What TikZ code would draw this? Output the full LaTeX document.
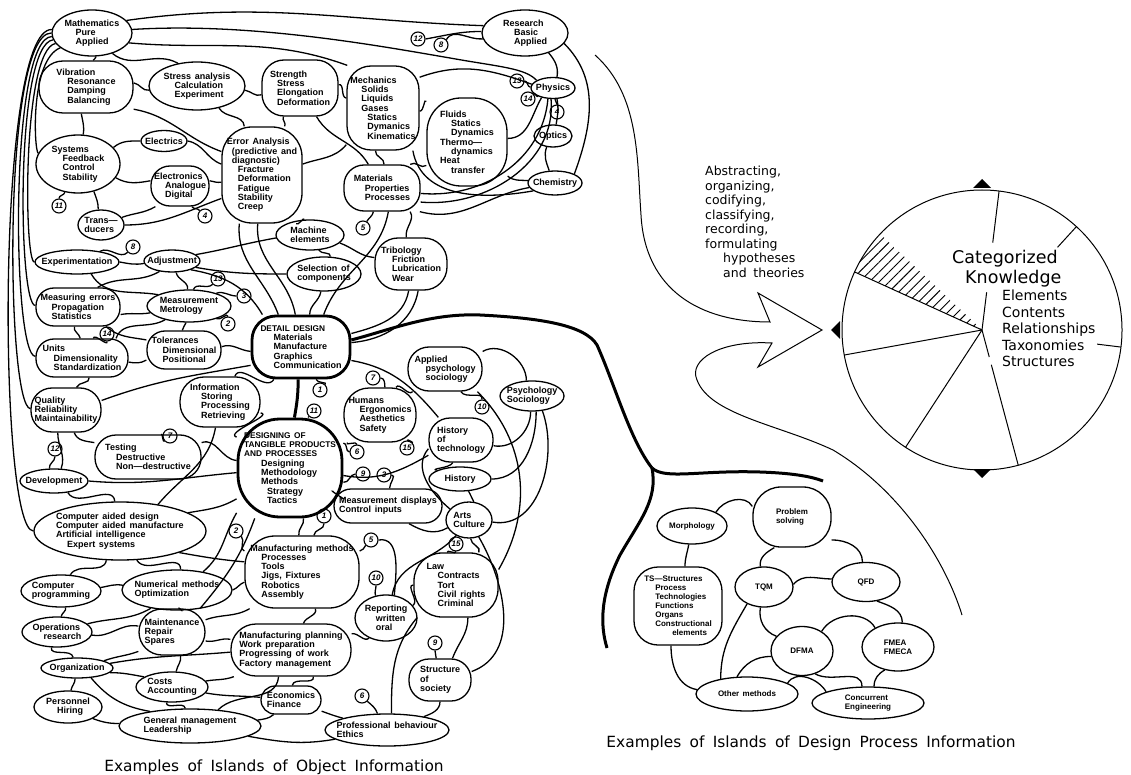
\documentclass[tikz,border=0pt]{standalone}
\usepackage{fontspec}
\newfontfamily\lblfont[WordSpace=1.5]{Liberation Sans}
\newfontfamily\geofont[WordSpace=1.7]{DejaVu Sans}
\usetikzlibrary{shapes.geometric,patterns.meta}
\newcommand{\indentA}{\hspace*{11pt}}
\newcommand{\indentB}{\hspace*{17pt}}
\newcommand{\capsfont}{\fontsize{8.3}{9.3}\selectfont}
\begin{document}
\begin{tikzpicture}[x=1pt,y=1pt,
  isl/.style 2 args={draw, ellipse, line width=1.3pt, inner sep=0pt, minimum width=#1, minimum height=#2},
  blob/.style n args={3}{draw, rectangle, rounded corners=#3, line width=1.3pt, inner sep=0pt, minimum width=#1, minimum height=#2},
  hub/.style={line width=2.8pt},
  lbl/.style={align=left, inner sep=0pt, font=\lblfont\bfseries\fontsize{9}{9.3}\selectfont},
  lbs/.style={align=left, inner sep=0pt, font=\lblfont\bfseries\fontsize{8}{9}\selectfont},
  tx/.style={label={[lbl]center:{#1}}},
  txs/.style={label={[lbs]center:{#1}}},
  numc/.style={draw, circle, line width=1.1pt, inner sep=0pt, minimum size=14pt, font=\lblfont\bfseries\itshape\fontsize{8}{8}\selectfont},
  ln/.style={line width=1.3pt},
  thk/.style={line width=3pt},
  geo/.style={font=\geofont\fontsize{12.5}{14.5}\selectfont, align=left, inner sep=0pt},
  ttl/.style={font=\geofont\fontsize{15.4}{16}\selectfont, inner sep=0pt},
]
\useasboundingbox (0,0) rectangle (1131,-775);

% ---------------- islands of object information ----------------
\node[isl={80}{46}, tx={Mathematics\\\indentA Pure\\\indentA Applied}] (math) at (92,-33) {};
\node[isl={86}{46}, tx={Research\\\indentA Basic\\\indentA Applied}] (res) at (525,-33) {};
\node[blob={94}{52}{24}, tx={Vibration\\\indentA Resonance\\\indentA Damping\\\indentA Balancing}] (vib) at (86,-87) {};
\node[isl={96}{48}, tx={Stress analysis\\\indentA Calculation\\\indentA Experiment}] (stress) at (197,-86) {};
\node[blob={76}{56}{22}, tx={Strength\\\hspace*{7pt}Stress\\\hspace*{7pt}Elongation\\\hspace*{7pt}Deformation}] (strength) at (300,-88) {};
\node[blob={72}{84}{24}, tx={Mechanics\\\indentA Solids\\\indentA Liquids\\\indentA Gases\\\indentB Statics\\\indentB Dymanics\\\indentB Kinematics}] (mech) at (383,-108) {};
\node[blob={80}{88}{34}, tx={Fluids\\\indentA Statics\\\indentA Dynamics\\Thermo—\\\indentA dynamics\\Heat\\\indentA transfer}] (fluid) at (467,-142) {};
\node[isl={44}{21}, tx={Physics}] (phys) at (553,-88) {};
\node[isl={38}{22}, tx={Optics}] (opt) at (553,-136) {};
\node[isl={54}{24}, tx={Chemistry}] (chem) at (555,-183) {};
\node[isl={84}{58}, tx={Systems\\\indentA Feedback\\\indentA Control\\\indentA Stability}] (sys) at (78,-164) {};
\node[isl={46}{21}, tx={Electrics}] (elec) at (164,-141) {};
\node[blob={58}{40}{19}, tx={Electronics\\\indentA Analogue\\\indentA Digital}] (elo) at (180,-186) {};
\node[blob={80}{96}{30}, tx={Error Analysis\\\hspace*{5pt}(predictive and\\\hspace*{5pt}diagnostic)\\\indentA Fracture\\\indentA Deformation\\\indentA Fatigue\\\indentA Stability\\\indentA Creep}] (err) at (262,-175) {};
\node[blob={76}{46}{20}, tx={Materials\\\indentA Properties\\\indentA Processes}] (mat) at (382,-188) {};
\node[isl={46}{30}, tx={Trans—\\ducers}] (trans) at (101,-225) {};
\node[isl={68}{30}, tx={Machine\\elements}] (mach) at (310,-235) {};
\node[blob={72}{52}{23}, tx={Tribology\\\indentA Friction\\\indentA Lubrication\\\indentA Wear}] (trib) at (411,-264) {};
\node[isl={74}{34}, tx={Selection of\\components}] (sel) at (324,-274) {};
\node[isl={84}{24}, tx={Experimentation}] (expm) at (77,-262) {};
\node[isl={56}{22}, tx={Adjustment}] (adj) at (172,-261) {};
\node[blob={84}{38}{18}, tx={Measuring errors\\\indentA Propagation\\\indentA Statistics}] (merr) at (78,-307) {};
\node[isl={84}{32}, tx={Measurement\\Metrology}] (meas) at (189,-306) {};
\node[blob={74}{38}{18}, tx={Tolerances\\\indentA Dimensional\\\indentA Positional}] (tol) at (184,-350) {};
\node[blob={92}{38}{18}, tx={Units\\\indentA Dimensionality\\\indentA Standardization}] (units) at (82,-358) {};
\node[blob={98}{62}{24}, hub, tx={{\capsfont DETAIL DESIGN}\\\hspace*{13pt}Materials\\\hspace*{13pt}Manufacture\\\hspace*{13pt}Graphics\\\hspace*{13pt}Communication}] (dd) at (301,-347) {};
\node[blob={80}{50}{24}, tx={Information\\\indentA Storing\\\indentA Processing\\\indentA Retrieving}] (info) at (220,-402) {};
\node[blob={70}{44}{21}, tx={Quality\\Reliability\\Maintainability}] (qual) at (66,-410) {};
\node[blob={106}{44}{21}, tx={Testing\\\indentA Destructive\\\indentA Non—destructive}] (test) at (148,-457) {};
\node[blob={104}{98}{42}, hub, tx={{\capsfont DESIGNING OF}\\{\capsfont TANGIBLE PRODUCTS}\\{\capsfont AND PROCESSES}\\\indentB Designing\\\indentB Methodology\\\indentB Methods\\\hspace*{23pt}Strategy\\\hspace*{23pt}Tactics}] (des) at (290,-468) {};
\node[blob={74}{44}{21}, tx={Applied\\\indentA psychology\\\indentA sociology}] (apsy) at (445,-369) {};
\node[blob={72}{54}{25}, tx={Humans\\\indentA Ergonomics\\\indentA Aesthetics\\\indentA Safety}] (hum) at (380,-415) {};
\node[isl={64}{30}, tx={Psychology\\Sociology}] (psy) at (532,-396) {};
\node[blob={64}{44}{21}, tx={History\\of\\technology}] (hot) at (461,-440) {};
\node[isl={62}{24}, tx={History}] (hist) at (460,-479) {};
\node[isl={68}{24}, tx={Development}] (dev) at (54,-481) {};
\node[blob={108}{34}{17}, tx={Measurement displays\\Control inputs}] (mdisp) at (388,-506) {};
\node[isl={46}{36}, tx={Arts\\Culture}] (arts) at (469,-520) {};
\node[isl={172}{58}, tx={Computer aided design\\Computer aided manufacture\\Artificial intelligence\\\indentA Expert systems}] (cad) at (120,-531) {};
\node[blob={114}{72}{30}, tx={Manufacturing methods\\\indentA Processes\\\indentA Tools\\\indentA Jigs, Fixtures\\\indentA Robotics\\\indentA Assembly}] (mm) at (302,-572) {};
\node[blob={84}{64}{28}, tx={Law\\\indentA Contracts\\\indentA Tort\\\indentA Civil rights\\\indentA Criminal}] (law) at (456,-585) {};
\node[isl={80}{32}, tx={Computer\\programming}] (cprog) at (61,-591) {};
\node[isl={110}{40}, tx={Numerical methods\\Optimization}] (num) at (177,-590) {};
\node[isl={62}{46}, tx={Reporting\\\indentA written\\\indentA oral}] (rep) at (386,-618) {};
\node[isl={70}{30}, tx={Operations\\\indentA research}] (ops) at (57,-632) {};
\node[blob={66}{46}{23}, tx={Maintenance\\Repair\\Spares}] (maint) at (172,-632) {};
\node[blob={120}{52}{25}, tx={Manufacturing planning\\Work preparation\\Progressing of work\\Factory management}] (mplan) at (291,-650) {};
\node[isl={72}{20}, tx={Organization}] (org) at (77,-668) {};
\node[isl={72}{30}, tx={Costs\\Accounting}] (costs) at (172,-687) {};
\node[blob={62}{42}{20}, tx={Structure\\of\\society}] (soc) at (440,-680) {};
\node[isl={68}{32}, tx={Personnel\\\indentA Hiring}] (pers) at (68,-707) {};
\node[blob={60}{28}{14}, tx={Economics\\Finance}] (econ) at (291,-700) {};
\node[isl={142}{34}, tx={General management\\Leadership}] (gm) at (190,-726) {};
\node[isl={124}{32}, tx={Professional behaviour\\Ethics}] (prof) at (387,-730) {};

% reference numbers
\node[numc] (n12a) at (418,-39) {12};
\node[numc] (n8a) at (441,-45) {8};
\node[numc] (n13a) at (517,-81) {13};
\node[numc] (n14a) at (528,-99) {14};
\node[numc] (n4a) at (557,-112) {4};
\node[numc] (n11a) at (59,-206) {11};
\node[numc] (n4b) at (205,-216) {4};
\node[numc] (n5a) at (363,-228) {5};
\node[numc] (n8b) at (133,-247) {8};
\node[numc] (n13b) at (218,-279) {13};
\node[numc] (n3a) at (244,-296) {3};
\node[numc] (n2a) at (228,-324) {2};
\node[numc] (n14b) at (107,-334) {14};
\node[numc] (n7a) at (170,-436) {7};
\node[numc] (n12b) at (55,-449) {12};
\node[numc] (n1a) at (320,-390) {1};
\node[numc] (n11b) at (314,-411) {11};
\node[numc] (n7b) at (373,-378) {7};
\node[numc] (n6a) at (357,-452) {6};
\node[numc] (n15a) at (407,-448) {15};
\node[numc] (n10a) at (482,-407) {10};
\node[numc] (n9a) at (363,-474) {9};
\node[numc] (n3b) at (384,-475) {3};
\node[numc] (n1b) at (324,-516) {1};
\node[numc] (n2b) at (236,-531) {2};
\node[numc] (n5b) at (371,-540) {5};
\node[numc] (n10b) at (376,-578) {10};
\node[numc] (n15b) at (456,-544) {15};
\node[numc] (n9b) at (435,-643) {9};
\node[numc] (n6b) at (362,-696) {6};

% long loops down the left edge
\draw[ln] (math.175) .. controls (-4,-28) and (-2,-530) .. (cad.180);
\draw[ln] (math.180) .. controls (2,-33) and (6,-405) .. (qual.178);
\draw[ln] (math.185) .. controls (9,-38) and (12,-356) .. (units.178);
\draw[ln] (math.190) .. controls (15,-44) and (18,-306) .. (merr.178);
\draw[ln] (math.196) .. controls (22,-50) and (24,-262) .. (expm.180);
\draw[ln] (math.205) .. controls (30,-60) and (34,-150) .. (sys.165);

% upper region
\draw[ln] (math.20) to[out=8,in=178] (res.170);
\draw[ln] (math.5) .. controls (250,-22) and (380,-46) .. (450,-58) .. controls (500,-67) and (525,-68) .. (phys.155);
\draw[ln] (math.-15) to[out=-5,in=160] (mech.130);
\draw[ln] (math.-45) to[out=-40,in=150] (stress.130);
\draw[ln] (math.-80) to[out=-70,in=80] (vib.75);
\draw[ln] (vib.5) to[out=-10,in=190] (stress.185);
\draw[ln] (stress.-5) to[out=-10,in=200] (strength.190);
\draw[ln] (vib.-25) to[out=-10,in=160] (err.150);
\draw[ln] (stress.-45) to[out=-60,in=95] (err.110);
\draw[ln] (strength.-120) to[out=-120,in=60] (err.65);
\draw[ln] (vib.-100) to[out=-80,in=80] (sys.80);
\draw[ln] (sys.25) to[out=40,in=180] (elec.180);
\draw[ln] (elec.0) to[out=-10,in=160] (err.165);
\draw[ln] (sys.-20) to[out=-30,in=190] (elo.170);
\draw[ln] (elo.10) to[out=-10,in=190] (err.190);
\draw[ln] (sys.-60) to[out=-70,in=90] (trans.100);
\draw[ln] (elo.-140) to[out=-150,in=20] (trans.20);
\draw[ln] (trans.0) to[out=0,in=200] (err.-150);
\draw[ln] (strength.5) to[out=10,in=170] (mech.165);
\draw[ln] (strength.-60) to[out=-60,in=120] (mat.120);
\draw[ln] (mech.-135) to[out=-130,in=20] (err.15);
\draw[ln] (mech.40) to[out=20,in=160] (phys.170);
\draw[ln] (mech.-5) to[out=0,in=120] (fluid.135);
\draw[ln] (mech.-100) to[out=-100,in=80] (mat.85);
\draw[ln] (mech.-55) to[out=-80,in=190] (chem.-160);
\draw[ln] (fluid.-40) to[out=-40,in=175] (chem.175);
\draw[ln] (fluid.5) to[out=0,in=-120] (phys.-140);
\draw[ln] (mat.-8) to[out=-5,in=-95] (phys.-115);
\draw[ln] (mat.-20) to[out=-5,in=-85] (phys.-100);
\draw[ln] (mat.40) to[out=40,in=-140] (fluid.-150);
\draw[ln] (mat.-32) to[out=-15,in=-170] (chem.-170);
\draw[ln] (res.-40) to[out=-50,in=80] (phys.70);
\draw[ln] (res.-15) to[out=-45,in=70] (chem.25);
\draw[ln] (phys.-70) to[out=-80,in=80] (opt.75);
\draw[ln] (opt.-120) to[out=-110,in=110] (chem.115);
\draw[ln] (n12a.east) to[out=10,in=180] (res.178);
\draw[ln] (n8a.north east) to[out=60,in=185] (res.-172);
\draw[ln] (n13a.east) to[out=0,in=175] (phys.178);
\draw[ln] (n14a.north east) to[out=45,in=-150] (phys.-150);
\draw[ln] (n4a.north) to[out=100,in=-80] (phys.-80);
\draw[ln] (n11a.north) to[out=90,in=-100] (sys.-115);
\draw[ln] (n4b.north west) to[out=120,in=-60] (elo.-60);

% middle region
\draw[ln] (err.-115) to[out=-95,in=110] (dd.125);
\draw[ln] (err.-95) to[out=-95,in=100] (dd.100);
\draw[ln] (err.-55) to[out=-50,in=100] (mach.110);
\draw[ln] (mat.-110) to[out=-100,in=60] (n5a.60);
\draw[ln] (mat.-75) to[out=-100,in=70] (dd.55);
\draw[ln] (mat.-40) to[out=-60,in=100] (trib.100);
\draw[ln] (mach.-15) to[out=-20,in=175] (trib.170);
\draw[ln] (mach.-60) to[out=-60,in=80] (sel.70);
\draw[ln] (adj.15) to[out=10,in=190] (mach.185);
\draw[ln] (adj.-15) to[out=-10,in=180] (sel.180);
\draw[ln] (sel.-100) to[out=-100,in=90] (dd.75);
\draw[ln] (trib.-95) to[out=-100,in=15] (dd.15);
\draw[ln] (trib.-75) to[out=-100,in=5] (dd.5);
\draw[ln] (expm.0) to[out=-10,in=190] (adj.185);
\draw[ln] (n8b.south west) to[out=-135,in=30] (expm.25);
\draw[ln] (expm.-40) to[out=-60,in=170] (meas.160);
\draw[ln] (adj.-140) to[out=-150,in=30] (merr.45);
\draw[ln] (adj.-70) to[out=-80,in=80] (meas.95);
\draw[ln] (adj.-25) to[out=-10,in=120] (dd.140);
\draw[ln] (merr.-10) to[out=10,in=190] (meas.190);
\draw[ln] (merr.-35) to[out=-40,in=170] (tol.165);
\draw[ln] (merr.-100) to[out=-110,in=100] (units.95);
\draw[ln] (meas.-100) to[out=-100,in=90] (tol.95);
\draw[ln] (meas.-150) to[out=-150,in=70] (units.30);
\draw[ln] (units.-5) to[out=-10,in=-150] (tol.-165);
\draw[ln] (tol.5) to[out=20,in=175] (dd.-175);
\draw[ln] (units.-70) to[out=-80,in=70] (qual.65);
\draw[ln] (qual.15) to[out=20,in=190] (dd.-160);
\draw[ln] (info.60) to[out=70,in=-120] (dd.-130);
\draw[ln] (info.-15) to[out=-10,in=160] (des.150);
\draw[ln] (qual.-70) to[out=-70,in=170] (test.165);
\draw[ln] (test.15) to[out=20,in=175] (des.172);
\draw[ln] (info.-100) to[out=-100,in=50] (cad.35);
\draw[ln] (n13b.south west) to[out=-135,in=70] (meas.75);
\draw[ln] (n3a.west) to[out=180,in=20] (meas.25);
\draw[ln] (n2a.north) to[out=100,in=-30] (meas.-25);
\draw[ln] (n14b.south) to[out=-80,in=80] (units.60);
\draw[ln] (n7a.south west) to[out=-135,in=60] (test.60);
\draw[ln] (n12b.south) to[out=-90,in=100] (dev.110);
\draw[ln] (qual.-110) to[out=-90,in=70] (dev.60);
\draw[thk] (dd.-95) to[out=-90,in=80] (des.85);
\draw[ln] (n1a.north east) to[out=45,in=-80] (dd.-65);
\draw[ln] (n11b.south west) to[out=-130,in=75] (des.70);
\draw[ln] (dd.-15) to[out=-10,in=130] (hot.135);

\draw[ln] (apsy.-145) to[out=-130,in=60] (hum.60);
\draw[ln] (apsy.-55) to[out=-60,in=80] (n10a.north);
\draw[ln] (apsy.25) to[out=30,in=90] (psy.110);
\draw[ln] (apsy.-35) to[out=-45,in=60] (law.20);
\draw[ln] (n7b.east) to[out=0,in=90] (hum.80);
\draw[ln] (n6a.north) to[out=90,in=-120] (hum.-140);
\draw[ln] (des.25) to[out=10,in=180] (n6a.west);
\draw[ln] (n15a.north) to[out=90,in=-40] (hum.-40);
\draw[ln] (des.-8) to[out=-10,in=-150] (hot.-155);
\draw[ln] (n9a.west) to[out=180,in=-10] (des.-15);
\draw[ln] (n3b.east) to[out=0,in=90] (mdisp.85);
\draw[ln] (des.-30) to[out=-30,in=160] (mdisp.165);
\draw[ln] (hot.-110) to[out=-120,in=160] (hist.160);
\draw[ln] (hot.-165) to[out=-130,in=140] (arts.150);
\draw[ln] (psy.-95) to[out=-90,in=-10] (hot.-10);
\draw[ln] (psy.-75) to[out=-90,in=0] (hist.0);
\draw[ln] (psy.-55) to[out=-70,in=-10] (arts.-5);
\draw[ln] (hist.-55) to[out=-60,in=120] (arts.75);
\draw[ln] (mdisp.-40) to[out=-30,in=-150] (arts.-160);
\draw[ln] (arts.-130) to[out=-130,in=80] (rep.75);
\draw[ln] (arts.-60) to[out=-60,in=20] (soc.15);
\draw[ln] (arts.-85) to[out=-90,in=60] (law.55);
\draw[ln] (n15b.south) to[out=-90,in=100] (law.105);

% lower region
\draw[ln] (dev.0) to[out=-5,in=185] (des.185);
\draw[ln] (dev.-40) to[out=-60,in=95] (cad.100);
\draw[ln] (cad.15) to[out=10,in=-150] (des.-150);
\draw[ln] (cad.-20) to[out=-10,in=175] (mm.170);
\draw[ln] (cad.-60) to[out=-60,in=90] (num.80);
\draw[ln] (cad.-115) to[out=-100,in=60] (cprog.60);
\draw[ln] (des.-140) to[out=-120,in=40] (num.35);
\draw[ln] (des.-125) to[out=-110,in=50] (maint.40);
\draw[ln] (cprog.5) to[out=10,in=170] (num.175);
\draw[ln] (cprog.-75) to[out=-70,in=80] (ops.75);
\draw[ln] (num.-145) to[out=-150,in=15] (ops.15);
\draw[ln] (num.-75) to[out=-80,in=80] (maint.75);
\draw[ln] (num.0) to[out=20,in=-160] (mm.-170);
\draw[ln] (maint.20) to[out=20,in=-150] (mm.-145);
\draw[ln] (maint.-15) to[out=-10,in=170] (mplan.170);
\draw[ln] (ops.-5) to[out=-10,in=170] (maint.170);
\draw[ln] (maint.-150) to[out=-160,in=20] (org.15);
\draw[ln] (ops.-110) to[out=-100,in=100] (org.110);
\draw[ln] (maint.-70) to[out=-80,in=80] (costs.75);
\draw[ln] (org.8) to[out=10,in=-175] (mplan.-178);
\draw[ln] (org.-8) to[out=0,in=170] (costs.160);
\draw[ln] (org.-35) to[out=-50,in=170] (gm.160);
\draw[ln] (org.-100) to[out=-90,in=80] (pers.80);
\draw[ln] (costs.10) to[out=10,in=-160] (mplan.-155);
\draw[ln] (costs.-10) to[out=-10,in=175] (econ.175);
\draw[ln] (costs.-110) to[out=-90,in=100] (gm.105);
\draw[ln] (pers.-25) to[out=-20,in=180] (gm.178);
\draw[ln] (mplan.-115) to[out=-95,in=45] (gm.30);
\draw[ln] (econ.-140) to[out=-140,in=10] (gm.5);
\draw[ln] (econ.-20) to[out=-20,in=165] (prof.165);
\draw[ln] (gm.-10) to[out=-10,in=-170] (prof.-170);
\draw[ln] (mplan.-50) to[out=-80,in=80] (econ.85);
\draw[ln] (mplan.15) to[out=10,in=-140] (rep.-130);
\draw[ln] (mm.-70) to[out=-70,in=70] (mplan.65);
\draw[ln] (des.-75) to[out=-80,in=100] (mm.95);
\draw[ln] (n1b.south) to[out=-80,in=90] (mm.72);
\draw[ln] (n2b.south east) to[out=-45,in=170] (mm.160);
\draw[ln] (mm.20) to[out=10,in=-120] (n5b.south west);
\draw[ln] (n5b.east) to[out=10,in=85] (rep.70);
\draw[ln] (n10b.south) to[out=-90,in=110] (rep.115);
\draw[ln] (rep.25) to[out=30,in=180] (law.180);
\draw[ln] (law.-70) to[out=-90,in=70] (soc.60);
\draw[ln] (n9b.south) to[out=-80,in=100] (soc.100);
\draw[ln] (soc.-90) to[out=-90,in=20] (prof.20);
\draw[ln] (n6b.south east) to[out=-40,in=110] (prof.120);
\draw[ln] (prof.75) to[out=90,in=-130] (law.-140);

% the thick trunk from detail design to the design process islands
\coordinate (jn) at (652,-468);
\coordinate (bre) at (823,-481);
\coordinate (brd) at (607,-648);
\draw[thk] (dd.8) .. controls (390,-330) and (430,-313) .. (480,-315) .. controls (540,-318) and (585,-325) .. (597,-345) .. controls (615,-385) and (630,-440) .. (jn);
\draw[thk] (jn) .. controls (665,-480) and (700,-470) .. (760,-472) .. controls (790,-473) and (810,-476) .. (bre);
\draw[thk] (jn) .. controls (658,-500) and (640,-520) .. (620,-555) .. controls (600,-595) and (600,-625) .. (brd);

% ---------------- islands of design process information ----------------
\node[isl={70}{36}, txs={Morphology}] (morph) at (692,-526) {};
\node[blob={78}{60}{28}, txs={Problem\\solving}] (prob) at (792,-517) {};
\node[blob={88}{78}{24}, txs={TS—Structures\\\indentA Process\\\indentA Technologies\\\indentA Functions\\\indentA Organs\\\indentA Constructional\\\hspace*{28pt}elements}] (ts) at (678,-606) {};
\node[isl={58}{40}, txs={TQM}] (tqm) at (764,-587) {};
\node[isl={68}{39}, txs={QFD}] (qfd) at (866,-582) {};
\node[isl={62}{49}, txs={DFMA}] (dfma) at (802,-651) {};
\node[isl={72}{48}, txs={FMEA\\FMECA}] (fmea) at (898,-647) {};
\node[isl={102}{34}, txs={Other methods}] (oth) at (747,-694) {};
\node[isl={112}{32}, txs={Concurrent\\Engineering}] (conc) at (868,-703) {};

\draw[ln] (morph.30) to[out=60,in=120] (prob.165);
\draw[ln] (morph.-100) to[out=-100,in=90] (ts.80);
\draw[ln] (prob.-120) to[out=-150,in=100] (tqm.100);
\draw[ln] (prob.-30) to[out=0,in=90] (qfd.100);
\draw[ln] (tqm.5) to[out=50,in=180] (qfd.175);
\draw[ln] (tqm.-100) to[out=-100,in=160] (dfma.150);
\draw[ln] (qfd.-60) to[out=-20,in=90] (fmea.80);
\draw[ln] (dfma.45) to[out=60,in=120] (fmea.140);
\draw[ln] (tqm.-135) to[out=-120,in=90] (oth.150);
\draw[ln] (dfma.-170) to[out=180,in=60] (oth.120);
\draw[ln] (ts.-100) to[out=-90,in=170] (oth.175);
\draw[ln] (oth.15) to[out=60,in=120] (conc.165);
\draw[ln] (dfma.-60) to[out=-30,in=90] (conc.110);
\draw[ln] (fmea.-120) to[out=-150,in=90] (conc.70);

% ---------------- the abstracting arrow ----------------
\draw[line width=1pt] (595,-55) .. controls (640,-95) and (637,-160) .. (641,-215)
  .. controls (645,-290) and (700,-322) .. (770,-322) -- (758,-293) -- (822,-330) -- (758,-367) -- (772,-343)
  .. controls (720,-340) and (688,-360) .. (697,-380)
  .. controls (710,-415) and (780,-425) .. (833,-450)
  .. controls (900,-490) and (945,-560) .. (962,-615);
\node[geo, anchor=north west] (abst) at (705,-166) {Abstracting,\\organizing,\\codifying,\\classifying,\\recording,\\formulating\\\hspace*{18pt}hypotheses\\\hspace*{18pt}and theories};

% ---------------- categorized knowledge ----------------
\fill[shift={(982,-330)}, pattern={Lines[angle=45,distance=7pt,line width=0.9pt]}]
  (0,0) -- (155.5:140) arc[start angle=155.5, end angle=136.7, radius=140] -- cycle;
\draw[line width=1pt] (982,-330) circle[radius=140];
\begin{scope}[shift={(982,-330)}, line width=1pt]
  \draw (0,0) -- (155.5:140);
  \draw (0,0) -- (190.3:140);
  \draw (0,0) -- (236.9:140);
  \draw (0,0) -- (83:38);
  \draw (83:88) -- (83:140);
  \draw (47.6:112) -- (47.6:140);
  \draw (-7:116) -- (-7:140);
  \draw (0,0) -- (-75:28);
  \draw (-75:36) -- (-75:140);
  \fill (-9,142) -- (0,151) -- (9,142) -- cycle;
  \fill (-142,-9) -- (-151,0) -- (-142,9) -- cycle;
  \fill (-9,-139) -- (0,-148) -- (9,-139) -- cycle;
\end{scope}
\node[font=\geofont\fontsize{17.5}{20}\selectfont, align=left, anchor=north west, inner sep=0pt] (catk) at (952,-250) {Categorized\\\hspace*{13pt}Knowledge};
\node[font=\geofont\fontsize{14}{16.5}\selectfont, align=left, anchor=north west, inner sep=0pt] (klist) at (1002,-290) {Elements\\Contents\\Relationships\\Taxonomies\\Structures};

% ---------------- captions ----------------
\node[ttl] (capA) at (274,-767) {Examples of Islands of Object Information};
\node[ttl] (capB) at (811,-743) {Examples of Islands of Design Process Information};
\end{tikzpicture}
\end{document}
